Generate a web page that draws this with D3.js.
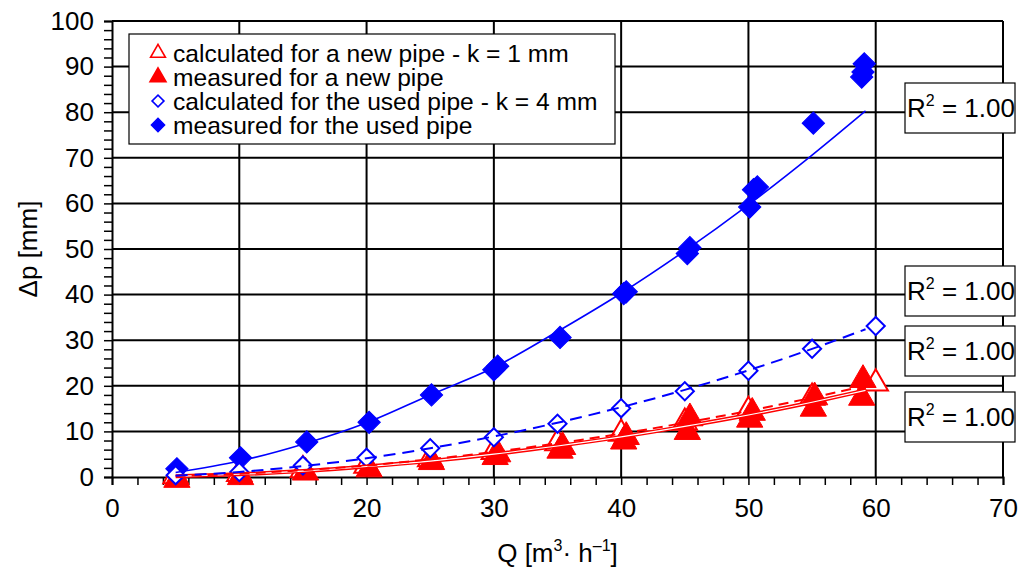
<!DOCTYPE html>
<html>
<head>
<meta charset="utf-8">
<script src="https://cdn.jsdelivr.net/npm/d3@7/dist/d3.min.js"></script>
<style>
  body { margin: 0; background: #fff; }
  text { font-family: "Liberation Sans", Arial, sans-serif; fill: #000; }
</style>
</head>
<body>
<div id="chart"></div>
<script>
// calculated pressure drop, new pipe (k = 1 mm) and used pipe (k = 4 mm)
var qCalc    = [5, 10, 15, 20, 25, 30, 35, 40, 45, 50, 55, 60];
var calcNew  = [0.2, 0.7, 1.5, 2.5, 3.9, 5.5, 7.4, 9.5, 11.9, 14.5, 17.4, 20.5];
var calcUsed = [0.4, 1.1, 2.5, 4.2, 6.3, 8.7, 11.7, 15.1, 18.8, 23.3, 28.1, 33.1];

// measured pressure drop, new pipe
var qMeasNew = [5.1, 10.1, 15.2, 20.2, 25.1, 30.1, 30.3, 35.2, 35.4, 40.2, 40.4, 45.2, 45.4, 50.1, 50.3, 55.1, 55.2, 58.9, 59.0];
var measNew  = [-0.6, 0, 1.0, 1.7, 3.3, 4.4, 5.0, 5.8, 6.6, 7.8, 8.8, 9.9, 12.9, 12.6, 14.1, 15.0, 17.5, 17.4, 21.3];

// measured pressure drop, used pipe
var qMeasUsed = [5.1, 10.1, 15.3, 20.2, 25.1, 30.0, 30.3, 35.2, 40.2, 40.4, 45.2, 45.4, 50.1, 50.4, 50.7, 55.1, 58.9, 59.0, 59.1];
var measUsed  = [1.8, 4.2, 7.7, 12.0, 18.0, 23.5, 24.3, 30.6, 40.2, 40.6, 49.0, 50.3, 59.2, 63.0, 63.6, 77.6, 87.7, 88.8, 90.6];

// fitted trend lines
var qTrend        = [5, 10, 15, 20, 25, 30, 35, 40, 45, 50, 55, 59.2];
var trendNewMeas  = [0.15, 0.6, 1.3, 2.3, 3.5, 5.0, 6.8, 8.8, 11.1, 13.6, 16.4, 19.0];
var trendNewCalc  = [0.2, 0.7, 1.5, 2.5, 3.9, 5.5, 7.4, 9.5, 11.9, 14.5, 17.4, 20.0];
var trendUsedCalc = [0.3, 1.1, 2.4, 4.1, 6.3, 8.9, 11.9, 15.3, 19.1, 23.4, 28.1, 32.4];
var trendUsedMeas = [1.0, 3.5, 7.2, 11.9, 18.0, 24.0, 31.9, 40.3, 49.6, 59.7, 70.6, 80.3];

var legendLabels = [
  "calculated for a new pipe - k = 1 mm",
  "measured for a new pipe",
  "calculated for the used pipe - k = 4 mm",
  "measured for the used pipe"
];
var rLabels = ["1.00", "1.00", "1.00", "1.00"];

var RED = "#ff0000", BLUE = "#0000ff";

var W = 1027, H = 569;
var margin = {top: 21, right: 24, bottom: 92, left: 112},
    width = W - margin.left - margin.right,
    height = H - margin.top - margin.bottom;

var svg = d3.select("#chart").append("svg")
  .attr("width", W).attr("height", H);

var g = svg.append("g")
  .attr("transform", "translate(" + margin.left + "," + margin.top + ")");

var x = d3.scaleLinear().domain([0, 70]).range([0, width]);
var y = d3.scaleLinear().domain([0, 100]).range([height, 0]);

// grid
g.append("g").selectAll("line")
  .data(d3.range(10, 80, 10))
  .enter().append("line")
    .attr("x1", function(d) { return x(d); }).attr("x2", function(d) { return x(d); })
    .attr("y1", 0).attr("y2", height)
    .attr("stroke", "#000").attr("stroke-width", 2);
g.append("g").selectAll("line")
  .data(d3.range(10, 110, 10))
  .enter().append("line")
    .attr("x1", 0).attr("x2", width)
    .attr("y1", function(d) { return y(d); }).attr("y2", function(d) { return y(d); })
    .attr("stroke", "#000").attr("stroke-width", 2);

// axes with minor ticks every 2
var xAxis = g.append("g").attr("transform", "translate(0," + height + ")")
  .call(d3.axisBottom(x).tickValues(d3.range(0, 72, 2)).tickSize(8)
        .tickFormat(function(d) { return d % 10 === 0 ? d : ""; }));
var yAxis = g.append("g")
  .call(d3.axisLeft(y).tickValues(d3.range(0, 102, 2)).tickSize(8)
        .tickFormat(function(d) { return d % 10 === 0 ? d : ""; }));
[xAxis, yAxis].forEach(function(a) {
  a.select(".domain").attr("stroke", "#000").attr("stroke-width", 2);
  a.selectAll(".tick line").attr("stroke", "#000").attr("stroke-width", 1.5);
  a.selectAll(".tick text").attr("font-size", 26).attr("font-family", "Liberation Sans, Arial, sans-serif");
});
xAxis.selectAll(".tick text").attr("y", 22).attr("dy", "0.71em");
yAxis.selectAll(".tick text").attr("x", -18);

// axis titles
var xt = svg.append("text")
  .attr("x", margin.left + width / 2).attr("y", 562)
  .attr("text-anchor", "middle").attr("font-size", 26);
xt.append("tspan").text("Q [m");
xt.append("tspan").attr("font-size", 16).attr("dy", -11).text("3");
xt.append("tspan").attr("dy", 11).text("· h");
xt.append("tspan").attr("font-size", 16).attr("dy", -11).text("–1");
xt.append("tspan").attr("dy", 11).text("]");

svg.append("text")
  .attr("transform", "translate(37," + (margin.top + height / 2) + ") rotate(-90)")
  .attr("text-anchor", "middle").attr("font-size", 26)
  .text("Δp [mm]");

function pts(qs, vs) {
  return qs.map(function(q, i) { return [q, vs[i]]; });
}

var tri = function(size) { return d3.symbol().type(d3.symbolTriangle).size(size)(); };
var sq = function(size) { return d3.symbol().type(d3.symbolSquare).size(size)(); };

// markers
function markers(data, path, fill, stroke, sw, rot) {
  g.append("g").selectAll("path")
    .data(data)
    .enter().append("path")
      .attr("d", path)
      .attr("transform", function(d) {
        return "translate(" + x(d[0]) + "," + y(d[1]) + ")" + (rot ? " rotate(45)" : "");
      })
      .attr("fill", fill).attr("stroke", stroke).attr("stroke-width", sw);
}
markers(pts(qCalc, calcNew), tri(260), "#fff", RED, 2, false);
markers(pts(qMeasNew, measNew), tri(300), RED, RED, 1, false);
markers(pts(qMeasUsed, measUsed), sq(250), BLUE, BLUE, 1, true);
markers(pts(qCalc, calcUsed), sq(165), "#fff", BLUE, 2, true);

// trend lines
var line = d3.line()
  .x(function(d) { return x(d[0]); })
  .y(function(d) { return y(d[1]); })
  .curve(d3.curveMonotoneX);

g.append("path").datum(pts(qTrend, trendNewMeas))
  .attr("d", line).attr("fill", "none").attr("stroke", RED).attr("stroke-width", 4);
g.append("path").datum(pts(qTrend, trendNewMeas))
  .attr("d", line).attr("fill", "none").attr("stroke", "#fff").attr("stroke-width", 1.2);
g.append("path").datum(pts(qTrend, trendNewCalc))
  .attr("d", line).attr("fill", "none").attr("stroke", RED).attr("stroke-width", 2)
  .attr("stroke-dasharray", "10,6");
g.append("path").datum(pts(qTrend, trendUsedCalc))
  .attr("d", line).attr("fill", "none").attr("stroke", BLUE).attr("stroke-width", 2)
  .attr("stroke-dasharray", "12,7");
g.append("path").datum(pts(qTrend, trendUsedMeas))
  .attr("d", line).attr("fill", "none").attr("stroke", BLUE).attr("stroke-width", 1.6);

// legend
var legend = svg.append("g").attr("transform", "translate(129,34)");
legend.append("rect").attr("width", 486).attr("height", 110)
  .attr("fill", "#fff").attr("stroke", "#000").attr("stroke-width", 1.2);
var legendMarks = [
  {d: tri(95), fill: "#fff", stroke: RED, rot: false},
  {d: tri(110), fill: RED, stroke: RED, rot: false},
  {d: sq(70), fill: "#fff", stroke: BLUE, rot: true},
  {d: sq(85), fill: BLUE, stroke: BLUE, rot: true}
];
legendLabels.forEach(function(t, i) {
  var cy = 19 + i * 24;
  var m = legendMarks[i];
  legend.append("path").attr("d", m.d)
    .attr("transform", "translate(29," + cy + ")" + (m.rot ? " rotate(45)" : ""))
    .attr("fill", m.fill).attr("stroke", m.stroke).attr("stroke-width", 1.6);
  legend.append("text").attr("x", 44).attr("y", cy).attr("dy", "0.35em")
    .attr("font-size", 24.6).text(t);
});

// R² boxes next to the trend lines
var boxTops = [83, 266, 326, 392];
rLabels.forEach(function(v, i) {
  var b = svg.append("g").attr("transform", "translate(905," + boxTops[i] + ")");
  b.append("rect").attr("width", 110).attr("height", 50)
    .attr("fill", "#fff").attr("stroke", "#000").attr("stroke-width", 1.2);
  var t = b.append("text").attr("x", 56).attr("y", 34)
    .attr("text-anchor", "middle").attr("font-size", 26);
  t.append("tspan").text("R");
  t.append("tspan").attr("font-size", 16).attr("dy", -11).text("2");
  t.append("tspan").attr("dy", 11).text(" = " + v);
});
</script>
</body>
</html>
